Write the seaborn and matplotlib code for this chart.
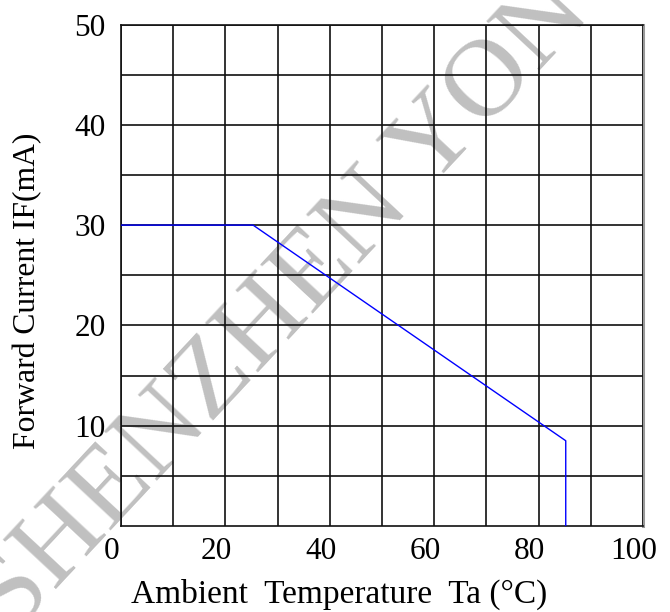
import matplotlib
matplotlib.use("Agg")
import matplotlib.pyplot as plt
import matplotlib.transforms as mtransforms
import seaborn as sns
import pandas as pd

# data
temperature = [0, 25.3, 85.2, 85.2]
current = [30, 30, 8.5, 0]
x_ticks = [0, 20, 40, 60, 80, 100]
x_tick_labels = ["0", "20", "40", "60", "80", "100"]
y_ticks = [10, 20, 30, 40, 50]
y_tick_labels = ["10", "20", "30", "40", "50"]
x_label = "Ambient  Temperature  Ta (°C)"
y_label = "Forward Current IF(mA)"
watermark = "SHENZHEN YONG"

sns.set_theme(style="white")
plt.rcParams["font.family"] = ["Liberation Serif", "DejaVu Serif"]

W, H = 670, 612
fig = plt.figure(figsize=(W / 100, H / 100), dpi=100)
fig.patch.set_facecolor("white")
ax = fig.add_axes([121 / W, 1 - 526 / H, 522 / W, 501.5 / H])
ax.set_facecolor("none")

df = pd.DataFrame({"Ta": temperature, "IF": current})
sns.lineplot(data=df, x="Ta", y="IF", sort=False, estimator=None,
             color="#0000ff", linewidth=1.0, ax=ax, zorder=5)

ax.set_xlim(0, 100)
ax.set_ylim(0, 50)
ax.set_xticks(x_ticks)
ax.set_xticklabels(x_tick_labels)
ax.set_xticks(range(10, 100, 20), minor=True)
ax.set_yticks(y_ticks)
ax.set_yticklabels(y_tick_labels)
ax.set_yticks(range(5, 50, 10), minor=True)
ax.grid(True, which="both", color="#111111", linewidth=1.2)
ax.set_axisbelow(False)
ax.tick_params(which="both", length=0, labelsize=22.5, colors="black")
ax.tick_params(axis="x", pad=8)
ax.tick_params(axis="y", pad=11)

for lab in ax.get_xticklabels():
    lab.set_transform(lab.get_transform() + mtransforms.ScaledTranslation(-9 / 100, 0, fig.dpi_scale_trans))

for side in ["left", "top", "bottom"]:
    ax.spines[side].set_color("#111111")
    ax.spines[side].set_linewidth(1.2)
ax.spines["right"].set_color("#999999")
ax.spines["right"].set_linewidth(2.2)

ax.set_xlabel(x_label, fontsize=24, color="black")
ax.set_ylabel(y_label, fontsize=22.8, color="black")
ax.xaxis.set_label_coords((339.5 - 121) / 522, (526 - 594) / 501.5)
ax.xaxis.label.set_va("center")
ax.yaxis.set_label_coords((27.5 - 121) / 522, (526 - 291) / 501.5)
ax.yaxis.label.set_va("center")

fig.text(310 / W, 1 - 278 / H, watermark, fontsize=80, color="#c0c0c0",
         rotation=47, rotation_mode="anchor", ha="center", va="center",
         zorder=-1, family="Liberation Serif")

fig.savefig("out.png", dpi=100)
